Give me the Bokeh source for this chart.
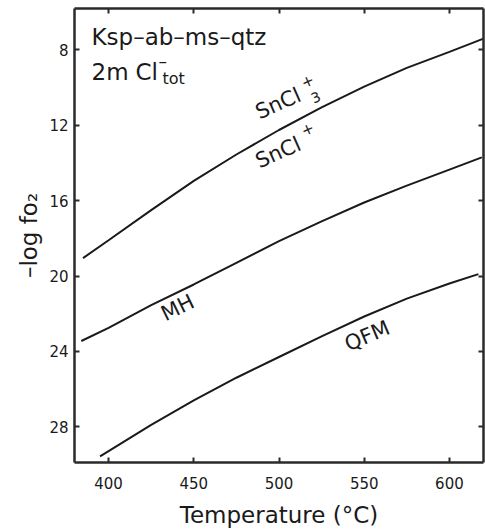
import math
from bokeh.plotting import figure
from bokeh.models import Range1d, LinearAxis, FixedTicker, Label, CustomLabelingPolicy
from bokeh.embed import file_html
from bokeh.resources import INLINE

# ---- data ----
x_ticks = [400, 450, 500, 550, 600]
y_ticks = [8, 12, 16, 20, 24, 28]

sncl3_T = [385, 400, 425, 450, 475, 500, 525, 550, 575, 600, 620]
sncl3_y = [19.05, 18.1, 16.5, 14.95, 13.55, 12.25, 11.05, 9.95, 8.95, 8.1, 7.4]

mh_T = [384, 400, 425, 450, 475, 500, 525, 550, 575, 600, 619]
mh_y = [23.45, 22.75, 21.55, 20.45, 19.3, 18.15, 17.1, 16.1, 15.2, 14.35, 13.7]

qfm_T = [395, 400, 425, 450, 475, 500, 525, 550, 575, 600, 617]
qfm_y = [29.58, 29.3, 27.9, 26.6, 25.4, 24.3, 23.2, 22.15, 21.2, 20.4, 19.9]

X0, X1 = 380, 620
Y_TOP, Y_BOT = 5.8, 29.9

FONT = "DejaVu Sans"
INK = "#1a1a1a"

# frame in page pixels: left 74, right 483, top 8, bottom 462
p = figure(width=485, height=531,
           x_range=Range1d(X0, X1), y_range=Range1d(Y_BOT, Y_TOP),
           output_backend="svg", toolbar_location=None,
           min_border_left=74, min_border_right=2,
           min_border_top=8, min_border_bottom=69)
p.background_fill_color = "white"
p.border_fill_color = "white"
p.outline_line_color = None
p.grid.visible = False

no_labels = CustomLabelingPolicy(code="""
for (const i of indices) { indices.unset(i) }
return indices
""")
top_axis = LinearAxis(major_label_policy=no_labels)
right_axis = LinearAxis(major_label_policy=no_labels)
p.add_layout(top_axis, "above")
p.add_layout(right_axis, "right")

for ax in p.xaxis:
    ax.ticker = FixedTicker(ticks=x_ticks)
for ax in p.yaxis:
    ax.ticker = FixedTicker(ticks=y_ticks)

for ax in list(p.xaxis) + list(p.yaxis):
    ax.axis_line_width = 2.5
    ax.axis_line_color = "#2a2a2a"
    ax.major_tick_in = 5
    ax.major_tick_out = 0
    ax.major_tick_line_width = 2
    ax.major_tick_line_color = "#2a2a2a"
    ax.minor_tick_line_color = None
    ax.major_label_text_font = FONT
    ax.major_label_text_font_size = "15px"
    ax.major_label_text_color = INK

for ax in (top_axis, right_axis):
    ax.major_label_standoff = 0
    ax.major_label_text_font_size = "0px"

xb = p.below[0]
yl = p.left[0]
xb.major_label_standoff = 14
yl.major_label_standoff = 6

xb.axis_label = "Temperature (°C)"
xb.axis_label_text_font = FONT
xb.axis_label_text_font_size = "23px"
xb.axis_label_text_font_style = "normal"
xb.axis_label_text_color = INK
xb.axis_label_standoff = 10

yl.axis_label = "–log fo₂"
yl.axis_label_text_font = FONT
yl.axis_label_text_font_size = "23px"
yl.axis_label_text_font_style = "normal"
yl.axis_label_text_color = INK
yl.axis_label_standoff = 4

for T, y in ((sncl3_T, sncl3_y), (mh_T, mh_y), (qfm_T, qfm_y)):
    p.line(T, y, line_width=2, line_color=INK)


def at(px, py):
    """reference-page pixel -> data position (frame spans px 74..483, py 8..462)"""
    return (X0 + (px - 74) * (X1 - X0) / (483 - 74),
            Y_TOP + (py - 8) * (Y_BOT - Y_TOP) / (462 - 8))


LIFT = 7  # px, raise every label along its own "up" direction


def lab(text, px, py, size, angle=0, align="left"):
    a = math.radians(angle)
    px -= LIFT * math.sin(a)
    py -= LIFT * math.cos(a)
    x, y = at(px, py)
    p.add_layout(Label(x=x, y=y, text=text, text_font=FONT,
                       text_font_size=f"{size}px", text_color=INK,
                       text_align=align, text_baseline="alphabetic",
                       angle=angle, angle_units="deg"))


# top-left legend text
lab("Ksp–ab–ms–qtz", 91, 43.5, 23)
lab("2m", 91, 78.5, 23)
lab("Cl", 135, 78.5, 23)
lab("–", 158, 67, 17)
lab("tot", 162, 84.5, 16)

# curve labels
lab("SnCl", 259, 119, 21, 24)
lab("3", 314, 105, 14, 24)
lab("+", 304, 89, 15, 24)

lab("SnCl", 259, 168, 21, 24)
lab("+", 304, 137, 15, 24)

lab("MH", 165, 321, 21, 26)
lab("QFM", 348, 351, 21, 23)

open("out.html", "w").write(file_html(p, INLINE))
